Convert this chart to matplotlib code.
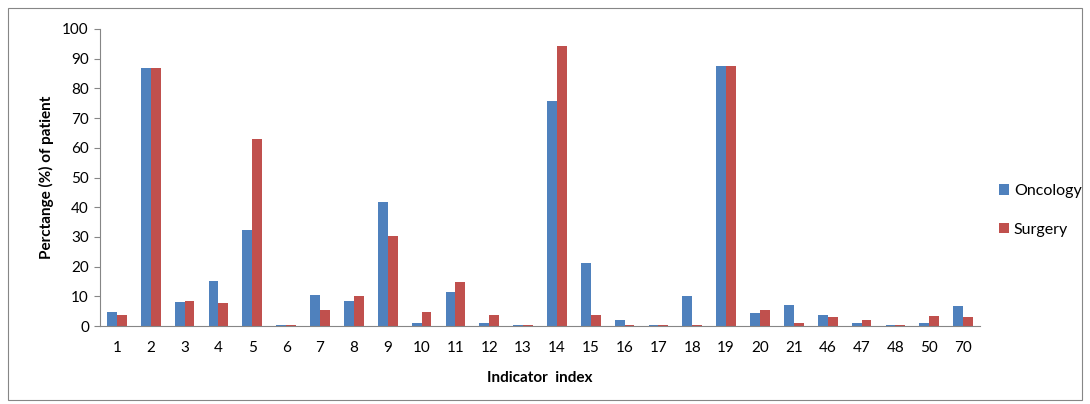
import numpy as np
import matplotlib.pyplot as plt
from matplotlib.patches import Rectangle

indicators = ["1", "2", "3", "4", "5", "6", "7", "8", "9", "10", "11", "12", "13",
              "14", "15", "16", "17", "18", "19", "20", "21", "46", "47", "48", "50", "70"]
oncology = [4.7, 87.0, 8.1, 15.2, 32.2, 0.5, 10.4, 8.5, 41.8, 1.0, 11.4, 1.0, 0.5,
            75.8, 21.3, 2.0, 0.5, 10.0, 87.6, 4.4, 7.2, 3.8, 1.0, 0.5, 1.0, 6.7]
surgery = [3.8, 87.0, 8.5, 7.6, 63.0, 0.5, 5.3, 10.0, 30.3, 4.7, 14.7, 3.8, 0.5,
           94.2, 3.8, 0.5, 0.5, 0.5, 87.6, 5.3, 1.0, 2.9, 2.0, 0.5, 3.4, 2.9]

plt.rcParams['font.family'] = ['Lato', 'DejaVu Sans']

fig = plt.figure(figsize=(10.9, 4.04), dpi=100)
ax = fig.add_axes([100 / 1090, 1 - 326 / 404, 880 / 1090, 297 / 404])

x = np.arange(len(indicators))
w = 0.29
ax.bar(x - w / 2, oncology, w, color='#4F81BD', label='Oncology')
ax.bar(x + w / 2, surgery, w, color='#C0504D', label='Surgery')

ax.set_xlim(-0.5, len(indicators) - 0.5)
ax.set_ylim(0, 100)
ax.set_yticks(range(0, 101, 10))
ax.set_xticks(x)
ax.set_xticklabels(indicators)
ax.tick_params(axis='x', length=0, pad=11, labelsize=11)
ax.tick_params(axis='y', length=4, color='#868686', labelsize=11, pad=4)
for s in ['top', 'right']:
    ax.spines[s].set_visible(False)
ax.spines['left'].set_color('#868686')
ax.spines['bottom'].set_color('#868686')

ax.set_ylabel('Perctange (%) of patient', fontweight='bold', fontsize=11, labelpad=6)
ax.set_xlabel('Indicator  index', fontweight='bold', fontsize=11, labelpad=11)

ax.legend(loc='center left', bbox_to_anchor=(1.005, 0.39), frameon=False,
          fontsize=11.5, handlelength=0.65, handleheight=0.65, handletextpad=0.3,
          labelspacing=1.55)

fig.patches.append(Rectangle((8 / 1090, 4 / 404), 1074 / 1090, 392 / 404,
                             transform=fig.transFigure, fill=False,
                             edgecolor='#868686', linewidth=0.8))

fig.savefig('out.png', dpi=100)
